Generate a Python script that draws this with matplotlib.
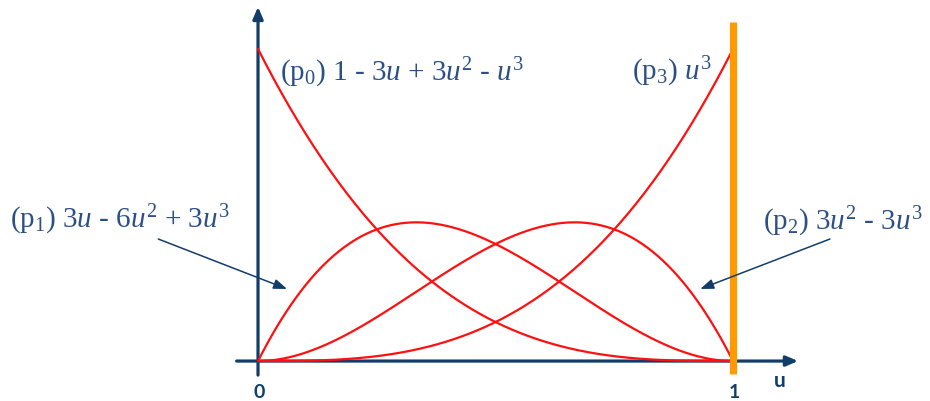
import numpy as np
import matplotlib
matplotlib.use("Agg")
import matplotlib.pyplot as plt

plt.rcParams.update({
    "mathtext.fontset": "custom",
    "mathtext.rm": "Liberation Serif",
    "mathtext.it": "Liberation Serif:italic",
})

# cubic Bernstein basis, coefficients of 1, u, u^2, u^3
NAMES = ["p0", "p1", "p2", "p3"]
COEFS = {
    "p0": [1, -3, 3, -1],
    "p1": [0, 3, -6, 3],
    "p2": [0, 0, 3, -3],
    "p3": [0, 0, 0, 1],
}
LABELS = {
    "p0": r"(p$_0$) 1 - 3$u$ + 3$u^2$ - $u^3$",
    "p1": r"(p$_1$) 3$u$ - 6$u^2$ + 3$u^3$",
    "p2": r"(p$_2$) 3$u^2$ - 3$u^3$",
    "p3": r"(p$_3$) $u^3$",
}
U_TICKS = [0, 1]

C_AXIS = "#123d6a"
C_TEXT = "#2c4f86"
C_CURVE = "#ff1010"
C_EDGE = "#ff9a00"

fig = plt.figure(figsize=(9.30, 4.02), dpi=100)
ax = fig.add_axes([0, 0, 1, 1])
ax.set_xlim(-0.5432, 1.4147)
ax.set_ylim(-0.128, 1.160)
ax.axis("off")

u = np.linspace(0, 1, 300)
for name in NAMES:
    c = COEFS[name]
    ax.plot(u, np.polyval(c[::-1], u), color=C_CURVE, lw=1.6, zorder=4,
            solid_capstyle="round")

# axes with arrow heads
ax.annotate("", xy=(0, 1.135), xytext=(0, -0.045),
            arrowprops=dict(arrowstyle="-|>,head_length=0.7,head_width=0.3",
                            color=C_AXIS, lw=2.3, shrinkA=0, shrinkB=0), zorder=3)
ax.annotate("", xy=(1.137, 0), xytext=(-0.045, 0),
            arrowprops=dict(arrowstyle="-|>,head_length=0.7,head_width=0.3",
                            color=C_AXIS, lw=2.3, shrinkA=0, shrinkB=0), zorder=3)

# u = 1 boundary
ax.plot([1, 1], [-0.042, 1.087], color=C_EDGE, lw=5.2, solid_capstyle="butt", zorder=5)

# tick labels
for t in U_TICKS:
    ax.text(t + 0.003, -0.097, str(t), ha="center", va="center", fontsize=14,
            fontweight="bold", family="Lato", color=C_AXIS)
ax.text(1.099, -0.062, "u", ha="center", va="center", fontsize=15,
        fontweight="bold", family="Lato", color=C_AXIS)

# formula labels
kw = dict(fontsize=21, color=C_TEXT, va="center", ha="left", family="Liberation Serif")
ax.text(0.046, 0.925, LABELS["p0"], **kw)
ax.text(0.787, 0.93, LABELS["p3"], **kw)
ax.text(-0.522, 0.455, LABELS["p1"], **kw)
ax.text(1.063, 0.449, LABELS["p2"], **kw)

arrow_kw = dict(arrowstyle="-|>,head_length=0.8,head_width=0.3",
                color=C_AXIS, lw=1.1, shrinkA=0, shrinkB=0)
ax.annotate("", xy=(0.061, 0.231), xytext=(-0.21, 0.391), arrowprops=arrow_kw, zorder=6)
ax.annotate("", xy=(0.931, 0.231), xytext=(1.204, 0.391), arrowprops=arrow_kw, zorder=6)

fig.savefig("out.png", dpi=100, facecolor="white")
